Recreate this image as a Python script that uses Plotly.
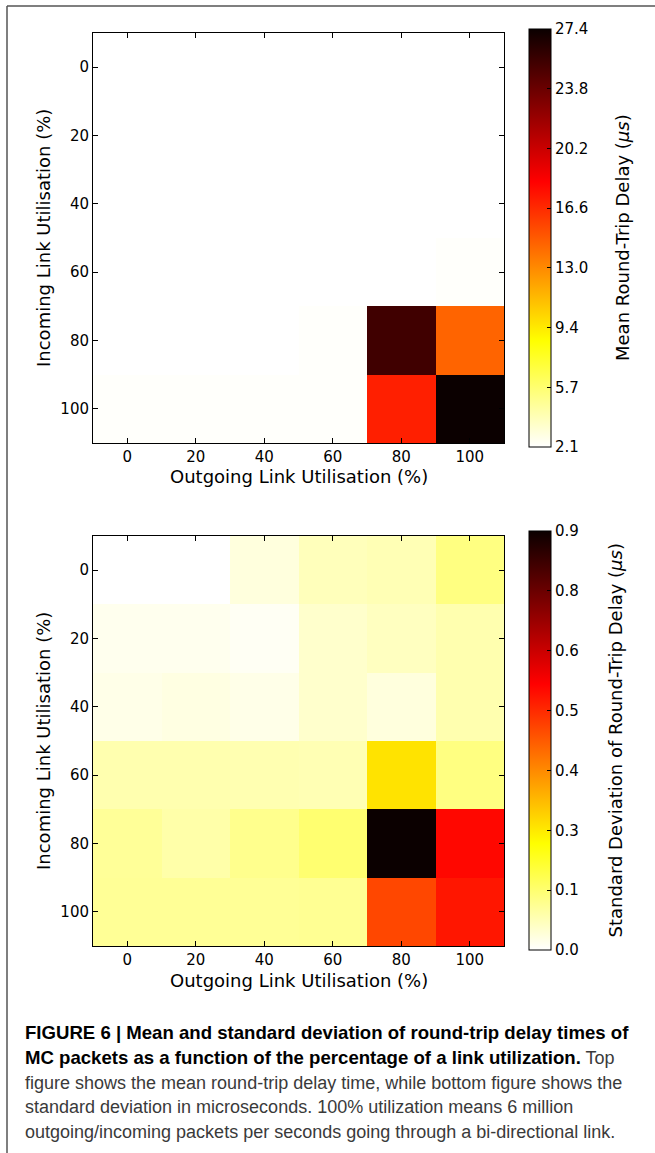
import numpy as np
import plotly.graph_objects as go

W, H = 655, 1153

# ---------------- data ----------------
outgoing = [0, 20, 40, 60, 80, 100]   # x categories (%)
incoming = [0, 20, 40, 60, 80, 100]   # y categories (%)

mean_delay = [
    [2.1, 2.1, 2.1, 2.1, 2.1, 2.1],
    [2.1, 2.1, 2.1, 2.1, 2.1, 2.1],
    [2.1, 2.1, 2.1, 2.1, 2.1, 2.1],
    [2.1, 2.1, 2.1, 2.1, 2.1, 2.2],
    [2.1, 2.1, 2.1, 2.2, 25.4, 14.4],
    [2.2, 2.2, 2.2, 2.2, 17.0, 27.4],
]
std_delay = [
    [0.0, 0.0, 0.03, 0.06, 0.065, 0.11],
    [0.015, 0.015, 0.01, 0.045, 0.055, 0.07],
    [0.02, 0.025, 0.02, 0.045, 0.03, 0.07],
    [0.07, 0.07, 0.068, 0.066, 0.26, 0.11],
    [0.09, 0.075, 0.10, 0.125, 0.88, 0.55],
    [0.092, 0.092, 0.092, 0.095, 0.466, 0.53],
]
mean_range = [2.1, 27.4]
mean_ticktext = ["2.1", "5.7", "9.4", "13.0", "16.6", "20.2", "23.8", "27.4"]
std_range = [0.0, 0.88]
std_ticktext = ["0.0", "0.1", "0.3", "0.4", "0.5", "0.6", "0.8", "0.9"]
axis_ticks = [0, 20, 40, 60, 80, 100]

BOLD = '<span style="font-size:18.6px;color:#000"><b>%s</b></span>'
caption_lines = [
    BOLD % "FIGURE 6 | Mean and standard deviation of round-trip delay times of",
    BOLD % "MC packets as a function of the percentage of a link utilization." + " Top",
    "figure shows the mean round-trip delay time, while bottom figure shows the",
    "standard deviation in microseconds. 100% utilization means 6 million",
    "outgoing/incoming packets per seconds going through a bi-directional link.",
]

# matplotlib hot_r
hot_r = [
    [0.0, "rgb(255,255,255)"],
    [0.253968, "rgb(255,255,0)"],
    [0.634921, "rgb(255,0,0)"],
    [1.0, "rgb(11,0,0)"],
]

def px(x):
    return x / W

def py(y):
    return 1 - y / H

FONT = "DejaVu Sans"
tickfont = dict(family=FONT, size=15, color="black")

fig = go.Figure()

panels = [
    dict(z=mean_delay, rng=mean_range, tt=mean_ticktext, top=33, bot=443,
         cbtop=29, cbbot=447, cbtitle="Mean Round-Trip Delay (<i>μs</i>)", cbtx=622,
         xa="x", ya="y"),
    dict(z=std_delay, rng=std_range, tt=std_ticktext, top=536, bot=946,
         cbtop=531, cbbot=950, cbtitle="Standard Deviation of Round-Trip Delay (<i>μs</i>)", cbtx=615,
         xa="x2", ya="y2"),
]

x_left, x_right = 93, 504
annotations = []
for i, p in enumerate(panels):
    tv = list(np.linspace(p["rng"][0], p["rng"][1], len(p["tt"])))
    fig.add_trace(go.Heatmap(
        x=outgoing, y=incoming, z=p["z"],
        zmin=p["rng"][0], zmax=p["rng"][1],
        colorscale=hot_r, zsmooth=False,
        xaxis=p["xa"], yaxis=p["ya"],
        colorbar=dict(
            x=px(529), xanchor="left",
            y=py((p["cbtop"] + p["cbbot"]) / 2), yanchor="middle",
            len=p["cbbot"] - p["cbtop"], lenmode="pixels",
            thickness=22, thicknessmode="pixels",
            outlinecolor="black", outlinewidth=1,
            tickvals=tv, ticktext=p["tt"],
            ticks="inside", ticklen=4, tickcolor="black",
            tickfont=tickfont, xpad=0, ypad=0,
        ),
    ))
    suffix = "" if i == 0 else "2"
    common = dict(
        showline=True, linecolor="black", linewidth=1, mirror="ticks",
        ticks="inside", ticklen=5, tickcolor="black", tickwidth=1,
        tickvals=axis_ticks, tickfont=tickfont, showgrid=False, zeroline=False,
    )
    fig.update_layout(**{
        "xaxis" + suffix: dict(domain=[px(x_left), px(x_right)], range=[-10, 110],
                               anchor="y" + suffix, **common),
        "yaxis" + suffix: dict(domain=[py(p["bot"]), py(p["top"])], range=[110, -10],
                               anchor="x" + suffix, **common),
    })
    ymid = (p["top"] + p["bot"]) / 2
    annotations.append(dict(
        text="Incoming Link Utilisation (%)", x=px(43), y=py(ymid),
        xref="paper", yref="paper", showarrow=False, textangle=-90,
        xanchor="center", yanchor="middle", font=dict(family=FONT, size=18, color="black")))
    annotations.append(dict(
        text="Outgoing Link Utilisation (%)", x=px((x_left + x_right) / 2), y=py(p["bot"] + 34),
        xref="paper", yref="paper", showarrow=False,
        xanchor="center", yanchor="middle", font=dict(family=FONT, size=18, color="black")))
    annotations.append(dict(
        text=p["cbtitle"], x=px(p["cbtx"]), y=py((p["cbtop"] + p["cbbot"]) / 2),
        xref="paper", yref="paper", showarrow=False, textangle=-90,
        xanchor="center", yanchor="middle", font=dict(family=FONT, size=18, color="black")))

cap_y = [1032, 1057, 1083, 1107, 1132]
for line, yy in zip(caption_lines, cap_y):
    annotations.append(dict(
        text=line, x=px(23), y=py(yy), xref="paper", yref="paper", showarrow=False,
        xanchor="left", yanchor="middle",
        font=dict(family="Liberation Sans", size=18, color="#3a3a3a")))

shapes = [
    dict(type="line", xref="paper", yref="paper", x0=px(7), x1=1, y0=py(6), y1=py(6),
         line=dict(color="#555", width=1.5)),
    dict(type="line", xref="paper", yref="paper", x0=px(7), x1=px(7), y0=py(6), y1=0,
         line=dict(color="#555", width=1.5)),
]

fig.update_layout(
    width=W, height=H, margin=dict(l=0, r=0, t=0, b=0),
    paper_bgcolor="white", plot_bgcolor="white",
    annotations=annotations, shapes=shapes, showlegend=False,
)

fig.write_html(
    "out.html",
    config={"displayModeBar": False},
    post_script="document.body.style.margin='0';document.body.style.overflow='hidden';",
)
